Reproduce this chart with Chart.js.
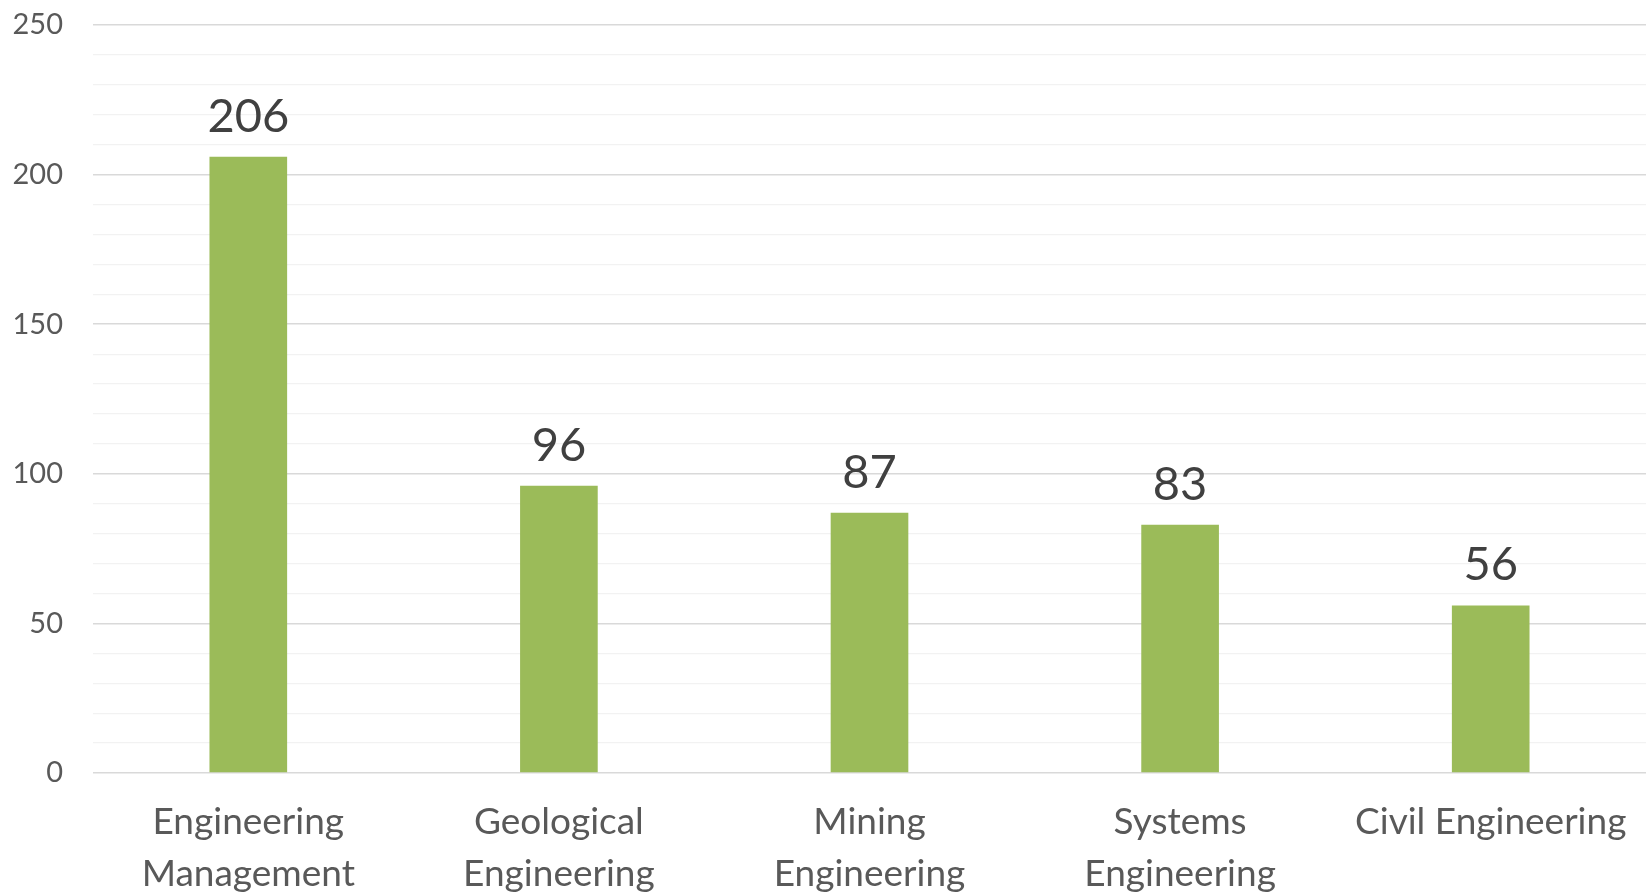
<!DOCTYPE html>
<html><head><meta charset="utf-8">
<script src="https://cdn.jsdelivr.net/npm/chart.js@4/dist/chart.umd.min.js"></script>
<style>html,body{margin:0;padding:0;background:#fff;}#wrap{width:1646px;height:895px;position:relative;}</style>
</head><body><div id="wrap"><canvas id="c"></canvas></div>
<script>
const categories = [["Engineering","Management"],["Geological","Engineering"],["Mining","Engineering"],["Systems","Engineering"],"Civil Engineering"];
const values = [206, 96, 87, 83, 56];
const yTicks = [0, 50, 100, 150, 200, 250];

const FONT = "Lato, 'Open Sans', sans-serif";
const dataLabels = {
  id: 'dataLabels',
  afterDatasetsDraw(chart) {
    const ctx = chart.ctx;
    const meta = chart.getDatasetMeta(0);
    ctx.save();
    ctx.font = "47px " + FONT;
    ctx.fillStyle = '#404040';
    ctx.textAlign = 'center';
    ctx.textBaseline = 'alphabetic';
    meta.data.forEach((bar, i) => {
      ctx.fillText(String(chart.data.datasets[0].data[i]), bar.x, bar.y - 25);
    });
    ctx.restore();
  }
};

new Chart(document.getElementById('c'), {
  type: 'bar',
  data: { labels: categories, datasets: [{ data: values, backgroundColor: '#9BBB59', borderWidth: 0, categoryPercentage: 1, barPercentage: 0.25 }] },
  options: {
    responsive: true, maintainAspectRatio: false, animation: false,
    layout: { padding: { top: 25, right: 0, left: 0, bottom: 0 } },
    plugins: { legend: { display: false }, tooltip: { enabled: false } },
    scales: {
      x: {
        grid: { display: false }, border: { display: false },
        ticks: { color: '#595959', font: { family: FONT, size: 37, lineHeight: 1.38 }, padding: 16, maxRotation: 0, autoSkip: false },
        afterFit(s) { s.height = 122; s.paddingLeft = 0; s.paddingRight = 0; s.paddingTop = 0; s.paddingBottom = 0; }
      },
      y: {
        min: yTicks[0], max: yTicks[yTicks.length - 1],
        border: { display: false },
        grid: {
          drawTicks: false,
          color: c => (c.tick && c.tick.value % 50 === 0) ? '#d9d9d9' : '#f2f2f2',
          lineWidth: c => (c.tick && c.tick.value % 50 === 0) ? 1.5 : 1.2
        },
        ticks: {
          stepSize: 10, autoSkip: false, padding: 30, color: '#595959',
          font: { family: FONT, size: 29 },
          callback: v => yTicks.includes(v) ? String(v) : ''
        },
        afterFit(s) { s.width = 93; s.paddingLeft = 0; s.paddingRight = 0; s.paddingTop = 0; s.paddingBottom = 0; }
      }
    }
  },
  plugins: [dataLabels]
});
</script></body></html>
